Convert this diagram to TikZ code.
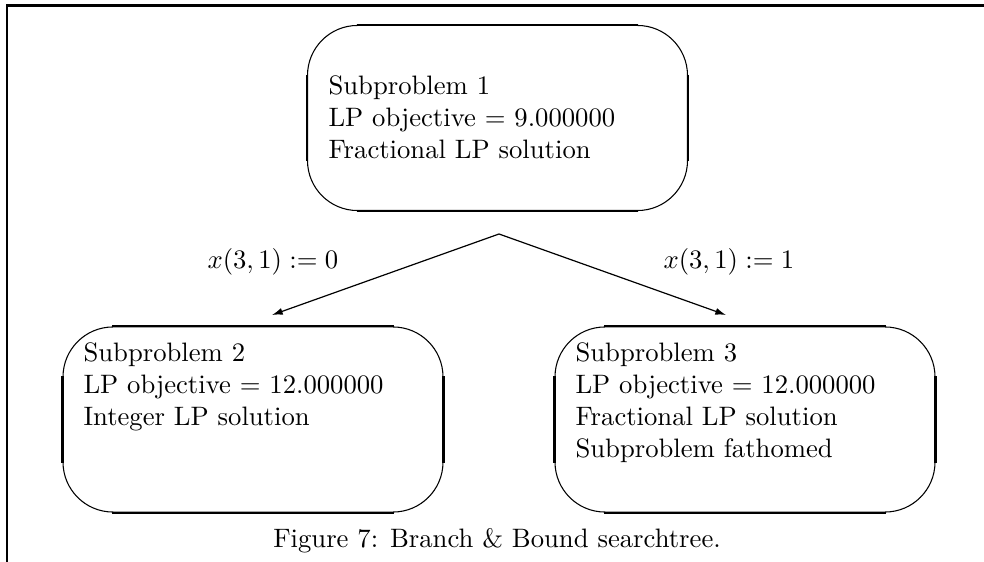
\documentclass[tikz,border=0pt]{standalone}
\usetikzlibrary{arrows.meta}
\begin{document}
\begin{tikzpicture}[x=0.375pt,y=-0.375pt,
  boxshape/.style={draw, line width=0.4pt, rounded corners=18.75pt,
    minimum width=142.5pt, minimum height=69.4pt, inner sep=0pt},
  boxside/.style={line width=0.8pt, line cap=butt},
  boxtext/.style={anchor=north west, inner sep=0pt, align=left, font=\normalsize},
  branch/.style={line width=0.45pt, -{Latex[length=4pt,width=2.6pt]}},
  lbl/.style={anchor=base west, inner sep=0pt},
  frameline/.style={line width=0.95pt, line join=miter}]
\useasboundingbox (0,0) rectangle (984,562);
% frame
\draw[frameline] (7,562) -- (7,5.25) -- (984,5.25);
% boxes
\node[boxshape] (b1) at (497.5,118) {};
\node[boxshape] (b2) at (253,419.5) {};
\node[boxshape] (b3) at (745,419.5) {};
\foreach \b in {b1,b2,b3}{
  \draw[boxside] ([xshift=18.75pt]\b.north west) -- ([xshift=-18.75pt]\b.north east);
  \draw[boxside] ([xshift=18.75pt]\b.south west) -- ([xshift=-18.75pt]\b.south east);
  \draw[boxside] ([yshift=-18.75pt]\b.north west) -- ([yshift=18.75pt]\b.south west);
  \draw[boxside] ([yshift=-18.75pt]\b.north east) -- ([yshift=18.75pt]\b.south east);
}
% texts
\node[boxtext] (t1) at (328,75.5) {Subproblem 1\\LP objective $=$ 9.000000\\Fractional LP solution};
\node[boxtext] (t2) at (83,342.5) {Subproblem 2\\LP objective $=$ 12.000000\\Integer LP solution};
\node[boxtext] (t3) at (575,342.5) {Subproblem 3\\LP objective $=$ 12.000000\\Fractional LP solution\\Subproblem fathomed};
% branches
\coordinate (apex) at (499,234);
\coordinate (lefttip) at (272,315);
\coordinate (righttip) at (726,315);
\draw[branch] (apex) -- (lefttip);
\draw[branch] (apex) -- (righttip);
\node[lbl] (l0) at (207,269) {$x(3,1):=0$};
\node[lbl] (l1) at (663,269) {$x(3,1):=1$};
% caption
\node[anchor=base] (cap) at (497,547) {Figure 7: Branch \& Bound searchtree.};
\end{tikzpicture}
\end{document}
